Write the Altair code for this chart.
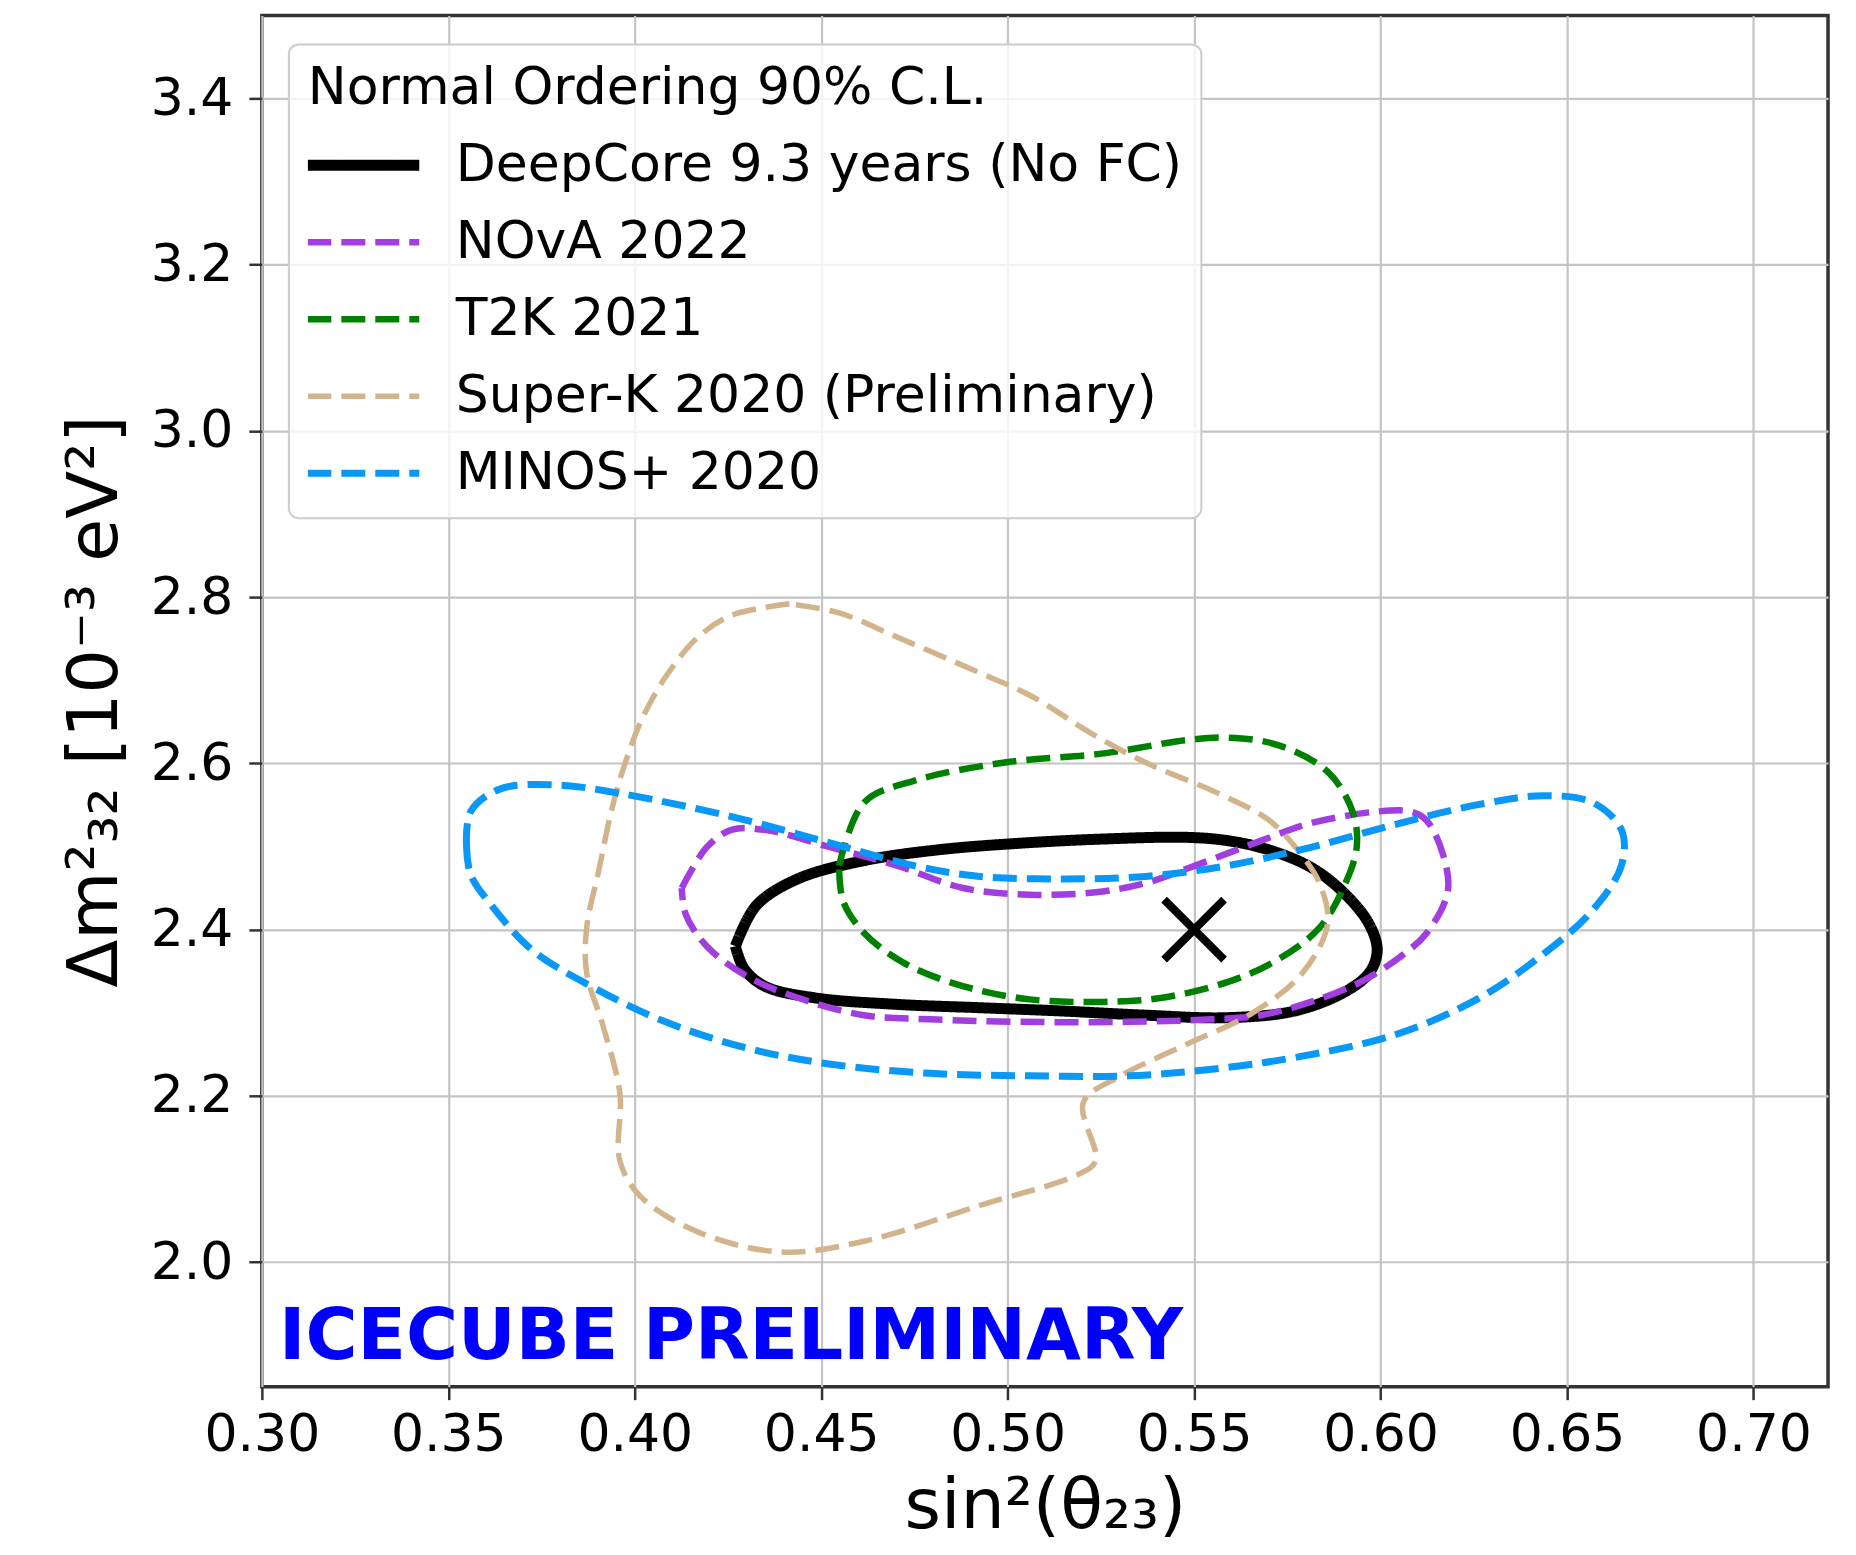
import altair as alt
import pandas as pd

# ---------------- data ----------------
series_names = [
    "DeepCore 9.3 years (No FC)",
    "NOvA 2022",
    "T2K 2021",
    "Super-K 2020 (Preliminary)",
    "MINOS+ 2020",
]
series_colors = ["#000000", "#a23de0", "#008000", "#d2b48c", "#0a98f8"]
series_widths = [11, 6.5, 6.5, 5.5, 7]
series_dashes = [[1, 0], [24, 10], [24, 10], [24, 10], [24, 10]]

deepcore_x = [0.427, 0.4326, 0.4437, 0.4615, 0.4814, 0.5036, 0.5258, 0.548, 0.559, 0.570,
              0.5813, 0.590, 0.5969, 0.5991, 0.597, 0.590, 0.5769, 0.559, 0.537, 0.5147,
              0.4925, 0.4703, 0.4481, 0.4348, 0.4293]
deepcore_y = [2.380, 2.429, 2.461, 2.483, 2.496, 2.504, 2.509, 2.511, 2.507, 2.496,
              2.475, 2.445, 2.407, 2.375, 2.348, 2.324, 2.302, 2.294, 2.297, 2.302,
              2.306, 2.310, 2.318, 2.332, 2.353]

nova_x = [0.4126, 0.4193, 0.4259, 0.4348, 0.4526, 0.4703, 0.488, 0.5059, 0.5236, 0.537,
          0.5503, 0.568, 0.5813, 0.5991, 0.608, 0.6124, 0.6169, 0.618, 0.6124, 0.6058,
          0.5947, 0.5813, 0.568, 0.5547, 0.5325, 0.5036, 0.4792, 0.4614, 0.4437, 0.4304,
          0.4193, 0.4137]
nova_y = [2.450, 2.499, 2.520, 2.520, 2.499, 2.477, 2.450, 2.442, 2.445, 2.456,
          2.477, 2.507, 2.528, 2.542, 2.542, 2.531, 2.488, 2.445, 2.396, 2.369,
          2.337, 2.313, 2.297, 2.292, 2.289, 2.289, 2.292, 2.297, 2.318, 2.343,
          2.380, 2.418]

t2k_x = [0.4548, 0.4615, 0.4748, 0.4992, 0.5258, 0.548, 0.5591, 0.5725, 0.5858, 0.5925,
         0.5936, 0.590, 0.5836, 0.5725, 0.5591, 0.5414, 0.5258, 0.5059, 0.488, 0.4725,
         0.4615, 0.4559]
t2k_y = [2.477, 2.553, 2.579, 2.601, 2.612, 2.628, 2.631, 2.622, 2.590, 2.542,
         2.499, 2.450, 2.402, 2.364, 2.337, 2.318, 2.313, 2.316, 2.332, 2.359,
         2.396, 2.434]

superk_x = [0.4415, 0.4259, 0.417, 0.4081, 0.4015, 0.3971, 0.3937, 0.3904, 0.3871, 0.3871,
            0.3915, 0.396, 0.396, 0.4015, 0.417, 0.4393, 0.4615, 0.4925, 0.5192, 0.5236,
            0.5203, 0.5303, 0.548, 0.5658, 0.5791, 0.5858, 0.5836, 0.5791, 0.5703, 0.5569,
            0.537, 0.5236, 0.5059, 0.4925, 0.4703, 0.4548]
superk_y = [2.792, 2.778, 2.752, 2.703, 2.649, 2.596, 2.542, 2.472, 2.402, 2.348,
            2.284, 2.203, 2.122, 2.079, 2.036, 2.012, 2.025, 2.068, 2.106, 2.122,
            2.192, 2.224, 2.262, 2.300, 2.348, 2.407, 2.456, 2.488, 2.531, 2.563,
            2.601, 2.633, 2.682, 2.709, 2.752, 2.781]

minos_x = [0.3549, 0.356, 0.3638, 0.3793, 0.3971, 0.4259, 0.4526, 0.4748, 0.4925, 0.5147,
           0.537, 0.5591, 0.5813, 0.6036, 0.6258, 0.6435, 0.6568, 0.6646, 0.6646, 0.6568,
           0.6435, 0.6258, 0.6036, 0.5769, 0.5547, 0.5325, 0.5059, 0.4792, 0.4526, 0.4304,
           0.4082, 0.3882, 0.3726, 0.3616, 0.356]
minos_y = [2.499, 2.542, 2.569, 2.574, 2.563, 2.536, 2.504, 2.477, 2.464, 2.461,
           2.464, 2.477, 2.499, 2.526, 2.550, 2.561, 2.553, 2.520, 2.477, 2.423,
           2.370, 2.316, 2.273, 2.246, 2.232, 2.224, 2.224, 2.227, 2.238, 2.257,
           2.289, 2.332, 2.375, 2.429, 2.466]

best_fit_x = [0.55]
best_fit_y = [2.40]

watermark_text = ["ICECUBE PRELIMINARY"]
watermark_x = [0.3046]
watermark_y = [1.883]

x_ticks = [0.30, 0.35, 0.40, 0.45, 0.50, 0.55, 0.60, 0.65, 0.70]
y_ticks = [2.0, 2.2, 2.4, 2.6, 2.8, 3.0, 3.2, 3.4]

legend_title = "Normal Ordering 90% C.L."

# ---------------- build tables ----------------
rows = []
for name, xs, ys in zip(series_names,
                        [deepcore_x, nova_x, t2k_x, superk_x, minos_x],
                        [deepcore_y, nova_y, t2k_y, superk_y, minos_y]):
    xs_c = xs + [xs[0]]
    ys_c = ys + [ys[0]]
    for i, (xv, yv) in enumerate(zip(xs_c, ys_c)):
        rows.append({"series": name, "order": i, "x": xv, "y": yv})
contours = pd.DataFrame(rows)

best_df = pd.DataFrame({"x": best_fit_x, "y": best_fit_y})
mark_df = pd.DataFrame({"x": watermark_x, "y": watermark_y, "t": watermark_text})

x_scale = alt.Scale(domain=[0.30, 0.72], nice=False, zero=False)
y_scale = alt.Scale(domain=[1.85, 3.5], nice=False, zero=False)

x_axis = alt.Axis(values=x_ticks, format=".2f", title="sin²(θ₂₃)", labelPadding=10,
                  titleY=141, titleBaseline="alphabetic", labelFlush=False, labelOverlap=False)
y_axis = alt.Axis(values=y_ticks, format=".1f", title="Δm²₃₂ [10⁻³ eV²]", labelPadding=16,
                  titleX=-145, titleY=686, titleBaseline="alphabetic", titleAngle=270,
                  labelFlush=False, labelOverlap=False)

lines = alt.Chart(contours).mark_line(
    interpolate="catmull-rom", strokeCap="butt", strokeJoin="round", clip=True
).encode(
    x=alt.X("x:Q", scale=x_scale, axis=x_axis),
    y=alt.Y("y:Q", scale=y_scale, axis=y_axis),
    color=alt.Color("series:N", title=legend_title,
                    scale=alt.Scale(domain=series_names, range=series_colors)),
    strokeDash=alt.StrokeDash("series:N", title=legend_title,
                              scale=alt.Scale(domain=series_names, range=series_dashes)),
    strokeWidth=alt.StrokeWidth("series:N", title=legend_title,
                                scale=alt.Scale(type="ordinal", domain=series_names,
                                                range=series_widths)),
    order=alt.Order("order:Q"),
)

best = alt.Chart(best_df).mark_point(
    shape="M-1,-1L1,1M-1,1L1,-1", size=3600, strokeWidth=8, filled=False,
    color="#000000", opacity=1, strokeCap="butt"
).encode(
    x=alt.X("x:Q", scale=x_scale),
    y=alt.Y("y:Q", scale=y_scale),
)

watermark = alt.Chart(mark_df).mark_text(
    align="left", baseline="alphabetic", font="DejaVu Sans", fontWeight="bold",
    fontSize=71, color="#0000ff"
).encode(
    x=alt.X("x:Q", scale=x_scale),
    y=alt.Y("y:Q", scale=y_scale),
    text="t:N",
)

chart = alt.layer(lines, best, watermark).properties(
    width=1567, height=1372,
    autosize=alt.AutoSizeParams(type="none"),
    padding={"left": 254, "top": 7, "right": 20, "bottom": 160},
    background="white",
).configure_view(
    stroke="#333333", strokeWidth=3.5
).configure_axis(
    labelFont="DejaVu Sans", labelFontSize=52, labelColor="#000000",
    titleFont="DejaVu Sans", titleFontSize=70, titleFontWeight="normal", titleColor="#000000",
    tickColor="#333333", tickWidth=2.5, tickSize=13, domain=False,
    grid=True, gridColor="#c4c4c4", gridWidth=2.2,
).configure_legend(
    orient="none", legendX=27, legendY=29,
    fillColor="rgba(255,255,255,0.8)", strokeColor="#cccccc", strokeWidth=2,
    cornerRadius=10, padding=19,
    titleFont="DejaVu Sans", titleFontSize=52, titleFontWeight="normal",
    titleColor="#000000", titlePadding=24, titleLimit=2000,
    labelFont="DejaVu Sans", labelFontSize=52, labelColor="#000000", labelLimit=2000,
    labelOffset=31, symbolOffset=-6, symbolType="stroke", symbolSize=12544,
    rowPadding=25, clipHeight=52,
)

chart.save("out.html", embed_options={"renderer": "svg", "actions": False})
